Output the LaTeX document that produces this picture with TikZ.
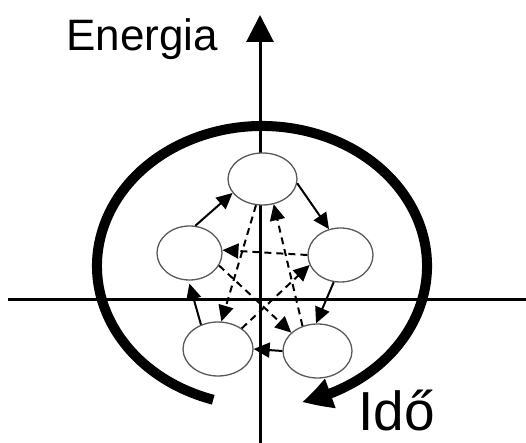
\documentclass[tikz,border=0pt]{standalone}
\usepackage{fontspec}
\setmainfont{Liberation Sans}
\usetikzlibrary{arrows.meta,shapes.geometric,bending}
\begin{document}
\begin{tikzpicture}[x=1pt,y=1pt,
  state/.style={ellipse,draw=black!65,line width=1.3pt,fill=white,inner sep=0pt},
  solidarr/.style={line width=2pt,-{Triangle[length=16pt,width=15pt]}},
  dasharr/.style={line width=2pt,dash pattern=on 7pt off 5pt,-{Triangle[length=16pt,width=15pt]}},
  axis/.style={line width=3pt},
  lbl/.style={inner sep=0pt,anchor=base west,text depth=0pt}]
\useasboundingbox (0,0) rectangle (526,443);
% axes
\coordinate (vbot) at (260,0);
\coordinate (vtop) at (260,428);
\coordinate (hleft) at (8,143);
\coordinate (hright) at (526,143);
\draw[axis,-{Triangle[length=27pt,width=27pt]}] (vbot) -- (vtop);
\draw[axis] (hleft) -- (hright);
% big cycle arrow
\draw[line width=10pt,-{Triangle[length=30pt,width=29pt,bend]}]
  (262,177) ++(252.8:165 and 140) arc[start angle=252.8,end angle=-76,x radius=165,y radius=140];
% states
\node[state,minimum width=69pt,minimum height=52pt] (T) at (262.5,264) {};
\node[state,minimum width=65pt,minimum height=54pt] (L) at (189.5,190) {};
\node[state,minimum width=65pt,minimum height=54pt] (R) at (340.5,188) {};
\node[state,minimum width=70pt,minimum height=54pt] (BL) at (218,94) {};
\node[state,minimum width=69pt,minimum height=54pt] (BR) at (317.5,92) {};
% solid transitions
\draw[solidarr] (L.78) -- (T.205);
\draw[solidarr] (T.-7) -- (R.114);
\draw[solidarr] (R.256) -- (BR.93);
\draw[solidarr] (BR.west) -- (BL.east);
\draw[solidarr,shorten >=3pt] (BL.125) -- (L.268);
% dashed transitions
\draw[dasharr] (R.180) -- (L.5);
\draw[dasharr] (T.256) -- (BL.83);
\draw[dasharr] (BR.121) -- (T.294);
\draw[dasharr] (L.337) -- (BR.145);
\draw[dasharr] (BL.41) -- (R.198);
% labels
\node[lbl,font=\fontsize{44}{44}\selectfont] (en) at (66,392) {Energia};
\node[lbl,font=\fontsize{55}{55}\selectfont] (ido) at (358,12) {Idő};
\end{tikzpicture}
\end{document}
